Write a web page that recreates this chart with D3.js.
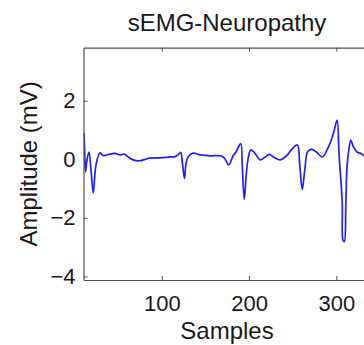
<!DOCTYPE html>
<html>
<head>
<meta charset="utf-8">
<script src="https://cdn.jsdelivr.net/npm/d3@7"></script>
<style>
  body { margin: 0; background: #fff; }
  svg { display: block; font-family: "Liberation Sans", Arial, sans-serif; }
</style>
</head>
<body>
<svg id="chart" width="364" height="345"></svg>
<script>
// sample index and amplitude (mV)
const samples = [10.9, 11.4, 12.6, 14.3, 16.6, 18.9, 21.5, 24.6, 29.2, 32.7, 40.7, 46.4, 52.2, 56.8, 61.4, 67.1,
    75.1, 80.9, 86.6, 98.1, 109.6, 115.3, 118.7, 121.6, 123.9, 126, 127.9, 130.2, 135.9, 144, 155.5, 167,
    171.5, 176.7, 181.8, 185.3, 190.5, 192.2, 194.5, 196.8, 199.1, 201.9, 205.9, 212.8, 217.4, 223.2, 228.9,
    235.8, 243.9, 248.4, 255.3, 258.1, 261, 263.9, 267.3, 271.9, 277.1, 284, 289.4, 294.3, 297.7, 301,
    302.9, 304.3, 305.8, 306.9, 307.7, 309.2, 310.9, 312.3, 314.4, 316.7, 319.5, 324.1, 327.6, 332.2, 336, 339];
const amplitude = [0.90, 0.49, -0.43, -0.02, 0.25, -0.36, -1.15, -0.19, 0.22, 0.13, 0.18, 0.20, 0.15, 0.18, 0.08, -0.02,
    -0.05, 0.0, 0.04, 0.05, 0.08, 0.09, 0.15, 0.24, -0.19, -0.65, -0.12, 0.08, 0.21, 0.15, 0.12, 0.12,
    0.05, -0.19, 0.12, 0.26, 0.54, -0.19, -1.37, -0.53, 0.05, 0.32, 0.24, -0.02, 0.05, 0.17, 0.06,
    -0.02, 0.15, 0.32, 0.49, -0.19, -1.03, -0.36, 0.27, 0.34, 0.25, 0.08, 0.32, 0.66, 1.0, 1.34,
    0.32, -0.36, -0.94, -1.56, -2.77, -2.81, -1.56, -0.25, 0.32, 0.66, 0.43, 0.24, 0.21, 0.12, 0.10, 0.08];

const xTicks = [100, 200, 300];
const yTicks = [-4, -2, 0, 2];
const xLim = [10.3, 339.2];
const yLim = [-4.12, 3.81];

const title = "sEMG-Neuropathy";
const xLabel = "Samples";
const yLabel = "Amplitude (mV)";

const svg = d3.select("#chart");
const mLeft = 83.5, mTop = 47.7, mRight = 370.5, mBottom = 280;
const axisColor = "#505050";

const x = d3.scaleLinear().domain(xLim).range([mLeft, mRight]);
const y = d3.scaleLinear().domain(yLim).range([mBottom, mTop]);

const data = samples.map((s, i) => ({s: s, v: amplitude[i]}));

svg.append("clipPath").attr("id", "plotclip")
    .append("rect")
    .attr("x", mLeft).attr("y", mTop)
    .attr("width", mRight - mLeft).attr("height", mBottom - mTop);

svg.append("path")
    .datum(data)
    .attr("clip-path", "url(#plotclip)")
    .attr("fill", "none")
    .attr("stroke", "#2020ff")
    .attr("stroke-width", 1.7)
    .attr("stroke-linejoin", "round")
    .attr("d", d3.line().curve(d3.curveCatmullRom.alpha(0.5)).x(d => x(d.s)).y(d => y(d.v)));

function styleAxis(g, labels) {
    g.selectAll(".domain").attr("stroke", axisColor).attr("stroke-width", 1.2);
    g.selectAll(".tick line").attr("stroke", axisColor);
    g.selectAll(".tick text").attr("fill", "#1a1a1a").style("font-size", "22px");
    if (!labels) g.selectAll(".tick text").remove();
}

let xb = svg.append("g").attr("transform", `translate(0,${mBottom})`)
    .call(d3.axisBottom(x).tickValues(xTicks).tickSize(-4).tickSizeOuter(0).tickPadding(15));
styleAxis(xb, true);

let xt = svg.append("g").attr("transform", `translate(0,${mTop})`)
    .call(d3.axisTop(x).tickValues(xTicks).tickSize(-4).tickSizeOuter(0));
styleAxis(xt, false);

let yl = svg.append("g").attr("transform", `translate(${mLeft},0)`)
    .call(d3.axisLeft(y).tickValues(yTicks).tickSize(-4).tickSizeOuter(0).tickPadding(8));
styleAxis(yl, true);

let yr = svg.append("g").attr("transform", `translate(${mRight},0)`)
    .call(d3.axisRight(y).tickValues(yTicks).tickSize(-4).tickSizeOuter(0));
styleAxis(yr, false);

svg.append("text")
    .attr("x", (mLeft + mRight) / 2).attr("y", 31)
    .attr("text-anchor", "middle")
    .attr("fill", "#1a1a1a")
    .style("font-size", "24px")
    .text(title);

svg.append("text")
    .attr("x", (mLeft + mRight) / 2).attr("y", 339)
    .attr("text-anchor", "middle")
    .attr("fill", "#1a1a1a")
    .style("font-size", "24px")
    .text(xLabel);

svg.append("text")
    .attr("transform", `translate(37,${(mTop + mBottom) / 2}) rotate(-90)`)
    .attr("text-anchor", "middle")
    .attr("fill", "#1a1a1a")
    .style("font-size", "24px")
    .text(yLabel);
</script>
</body>
</html>
